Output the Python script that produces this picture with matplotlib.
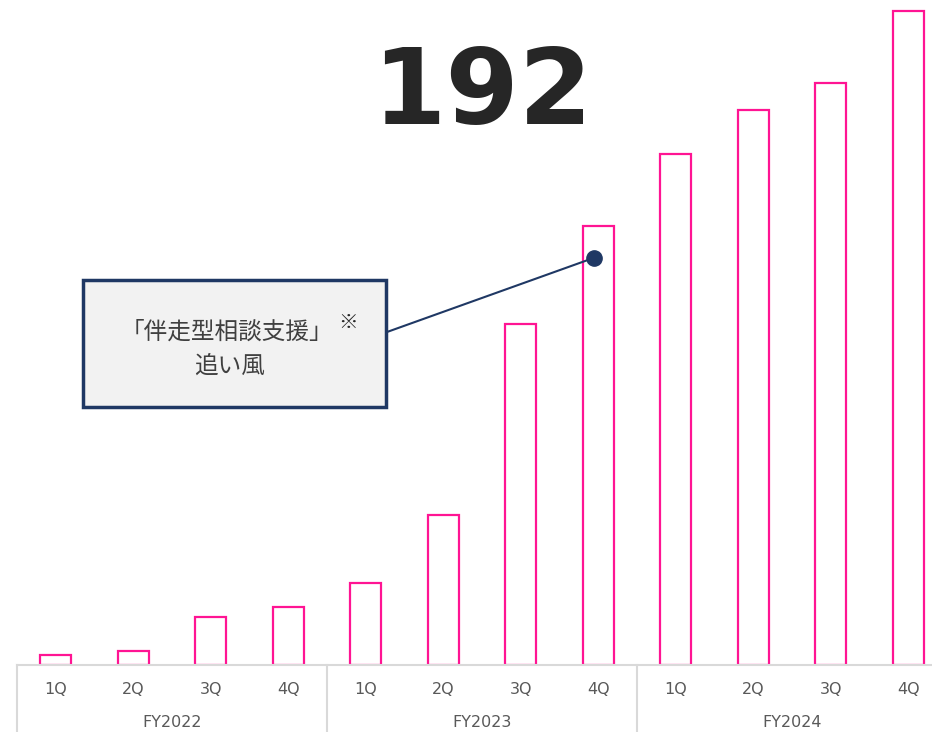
import matplotlib.pyplot as plt
from matplotlib.patches import Rectangle
import numpy as np

plt.rcParams['font.family'] = ['DejaVu Sans', 'Noto Sans CJK JP']

quarters = ['1Q', '2Q', '3Q', '4Q'] * 3
years = ['FY2022', 'FY2023', 'FY2024']
values = [3, 4, 14, 17, 24, 44, 100, 129, 150, 163, 171, 192]
headline = '192'
note_lines = ['「伴走型相談支援」', '追い風']

pink = '#ff1493'
navy = '#1f3864'
grid_grey = '#d9d9d9'

W, H = 932, 732
fig = plt.figure(figsize=(W / 100, H / 100), dpi=100)
# plot area runs off the right edge a bit, like the original slide crop
ax = fig.add_axes([17 / W, 67 / H, 930 / W, 665 / H])

x = np.arange(len(values))
ax.bar(x, values, width=0.4, facecolor='white', edgecolor=pink, linewidth=1.6, zorder=2)
ax.set_xlim(-0.5, len(values) - 0.5)
ax.set_ylim(0, 192 * 665 / 654)

for s in ['top', 'right', 'left']:
    ax.spines[s].set_visible(False)
ax.spines['bottom'].set_color(grid_grey)
ax.spines['bottom'].set_linewidth(1.5)
ax.spines['bottom'].set_zorder(3)
ax.set_yticks([])
ax.set_xticks(x)
ax.set_xticklabels(quarters, fontsize=11.5, color='#595959')
ax.tick_params(axis='x', length=0, pad=12)

# year group labels and separators
trans = ax.get_xaxis_transform()
for i, yr in enumerate(years):
    ax.text(i * 4 + 1.5, -0.086, yr, transform=trans, ha='center', va='center',
            fontsize=11.5, color='#595959')
    ax.plot([i * 4 - 0.5] * 2, [0, -0.11], transform=trans, color=grid_grey,
            lw=1.5, clip_on=False)

# overlay in pixel coordinates for the headline and callout
ov = fig.add_axes([0, 0, 1, 1])
ov.set_xlim(0, W)
ov.set_ylim(H, 0)
ov.axis('off')
ov.patch.set_alpha(0)

ov.text(482, 95, headline, ha='center', va='center', fontsize=76,
        fontweight='bold', color='#262626')

ov.add_patch(Rectangle((83, 280), 303, 127, facecolor='#f2f2f2',
                       edgecolor=navy, linewidth=2.5, zorder=3))
ov.text(227, 332, note_lines[0], ha='center', va='center', fontsize=17,
        color='#404040', family=['Noto Sans CJK JP'], zorder=4)
ov.text(348, 322, '※', ha='center', va='center', fontsize=14, fontweight='bold',
        color='#262626', family=['Noto Sans CJK JP'], zorder=4)
ov.text(230, 366, note_lines[1], ha='center', va='center', fontsize=17,
        color='#404040', family=['Noto Sans CJK JP'], zorder=4)

# connector to the 4Q FY2023 bar
px, py = ax.transData.transform((6.94, values[7] - 9.5))
dx, dy = ov.transData.inverted().transform((px, py))
ov.plot([387, dx], [332, dy], color=navy, lw=1.5, zorder=3)
ov.plot(dx, dy, 'o', color=navy, markersize=11, zorder=4)

plt.savefig('out.png', dpi=100)
